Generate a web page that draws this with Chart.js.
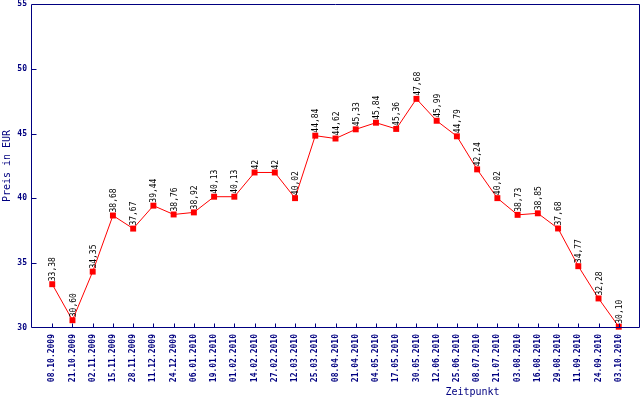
<!DOCTYPE html>
<html>
<head>
<meta charset="utf-8">
<script src="https://cdn.jsdelivr.net/npm/chart.js@4.4.1/dist/chart.umd.min.js"></script>
<style>
  html, body { margin: 0; padding: 0; background: #fff; }
  #wrap { width: 640px; height: 400px; }
</style>
</head>
<body>
<div id="wrap"><canvas id="mycanvas" width="640" height="400"></canvas></div>
<script>
var dates = ['08.10.2009', '21.10.2009', '02.11.2009', '15.11.2009', '28.11.2009', '11.12.2009',
  '24.12.2009', '06.01.2010', '19.01.2010', '01.02.2010', '14.02.2010', '27.02.2010',
  '12.03.2010', '25.03.2010', '08.04.2010', '21.04.2010', '04.05.2010', '17.05.2010',
  '30.05.2010', '12.06.2010', '25.06.2010', '08.07.2010', '21.07.2010', '03.08.2010',
  '16.08.2010', '29.08.2010', '11.09.2010', '24.09.2010', '03.10.2010'];
var prices = [33.38, 30.60, 34.35, 38.68, 37.67, 39.44, 38.76, 38.92, 40.13, 40.13, 42, 42,
  40.02, 44.84, 44.62, 45.33, 45.84, 45.36, 47.68, 45.99, 44.79, 42.24, 40.02, 38.73,
  38.85, 37.68, 34.77, 32.28, 30.10];
var yTicks = [30, 35, 40, 45, 50, 55];

var navy = '#000080';
var mono = '"DejaVu Sans Mono", "Liberation Mono", monospace';

function fmt(v) {
    if (Number.isInteger(v)) return String(v);
    return v.toFixed(2).replace('.', ',');
}

var points = [];
for (var i in prices) {
    points.push({x: Number(i), y: prices[i]});
}

function noPad(scale) {
    scale.paddingTop = 0;
    scale.paddingBottom = 0;
    scale.paddingLeft = 0;
    scale.paddingRight = 0;
}

// frame, inward tick marks, value labels and axis titles
var decor = {
    id: 'decor',
    afterDatasetsDraw: function(chart) {
        var ctx = chart.ctx;
        var a = chart.chartArea;
        var xs = chart.scales.x, ys = chart.scales.y;
        var l = Math.round(a.left) - 0.5, r = Math.round(a.right) + 0.5;
        var t = Math.round(a.top) + 0.5, b = Math.round(a.bottom) - 0.5;
        ctx.save();
        ctx.strokeStyle = navy;
        ctx.lineWidth = 1;
        ctx.beginPath();
        ctx.moveTo(l, t); ctx.lineTo(r, t); ctx.lineTo(r, b); ctx.lineTo(l, b); ctx.closePath();
        for (var k = 0; k < dates.length; k++) {
            var px = Math.round(xs.getPixelForValue(k)) + 0.5;
            ctx.moveTo(px, b); ctx.lineTo(px, b - 4);
        }
        for (var j = 0; j < yTicks.length; j++) {
            var py = Math.round(ys.getPixelForValue(yTicks[j])) + 0.5;
            if (yTicks[j] == 30 || yTicks[j] == 55) continue;
            ctx.moveTo(l, py); ctx.lineTo(l + 5, py);
        }
        ctx.stroke();

        // values above the points
        ctx.fillStyle = '#000';
        ctx.font = '8px ' + mono;
        ctx.textAlign = 'left';
        ctx.textBaseline = 'middle';
        var meta = chart.getDatasetMeta(0);
        meta.data.forEach(function(pt, idx) {
            ctx.save();
            ctx.translate(pt.x + 1, pt.y - 3);
            ctx.rotate(-Math.PI / 2);
            ctx.fillText(fmt(prices[idx]), 0, 0);
            ctx.restore();
        });

        // axis titles
        ctx.fillStyle = navy;
        ctx.font = '10px ' + mono;
        ctx.textAlign = 'center';
        ctx.textBaseline = 'middle';
        ctx.fillText('Zeitpunkt', 472.5, 392);
        ctx.save();
        ctx.translate(7, (a.top + a.bottom) / 2);
        ctx.rotate(-Math.PI / 2);
        ctx.fillText('Preis in EUR', 0, 0);
        ctx.restore();
        ctx.restore();
    }
};

var config = {
    type: 'line',
    data: {
        datasets: [{
            data: points,
            borderColor: '#ff0000',
            borderWidth: 1,
            backgroundColor: '#ff0000',
            pointStyle: 'rect',
            pointRadius: 4.2,
            pointBorderWidth: 0,
            pointBackgroundColor: '#ff0000',
            tension: 0,
            clip: false
        }]
    },
    options: {
        responsive: false,
        animation: false,
        events: [],
        layout: { autoPadding: false, padding: { top: 4, right: 1, left: 0, bottom: 0 } },
        plugins: { legend: { display: false }, tooltip: { enabled: false } },
        scales: {
            x: {
                type: 'linear',
                min: -1,
                max: dates.length,
                grid: { display: false, drawTicks: false },
                border: { display: false },
                afterBuildTicks: function(scale) {
                    scale.ticks = dates.map(function(d, k) { return {value: k}; });
                },
                afterFit: function(scale) { scale.height = 72; noPad(scale); },
                ticks: {
                    autoSkip: false,
                    minRotation: 90,
                    maxRotation: 90,
                    padding: 6,
                    color: navy,
                    font: { family: mono, size: 8, weight: 'bold' },
                    callback: function(v) { return dates[v]; }
                }
            },
            y: {
                min: 30,
                max: 55,
                grid: { display: false, drawTicks: false },
                border: { display: false },
                afterBuildTicks: function(scale) {
                    scale.ticks = yTicks.map(function(v) { return {value: v}; });
                },
                afterFit: function(scale) { scale.width = 32; noPad(scale); },
                ticks: {
                    padding: 5,
                    color: navy,
                    font: { family: mono, size: 8, weight: 'bold' }
                }
            }
        }
    },
    plugins: [decor]
};

var ctx = document.getElementById('mycanvas').getContext('2d');
var priceChart = new Chart(ctx, config);
</script>
</body>
</html>
